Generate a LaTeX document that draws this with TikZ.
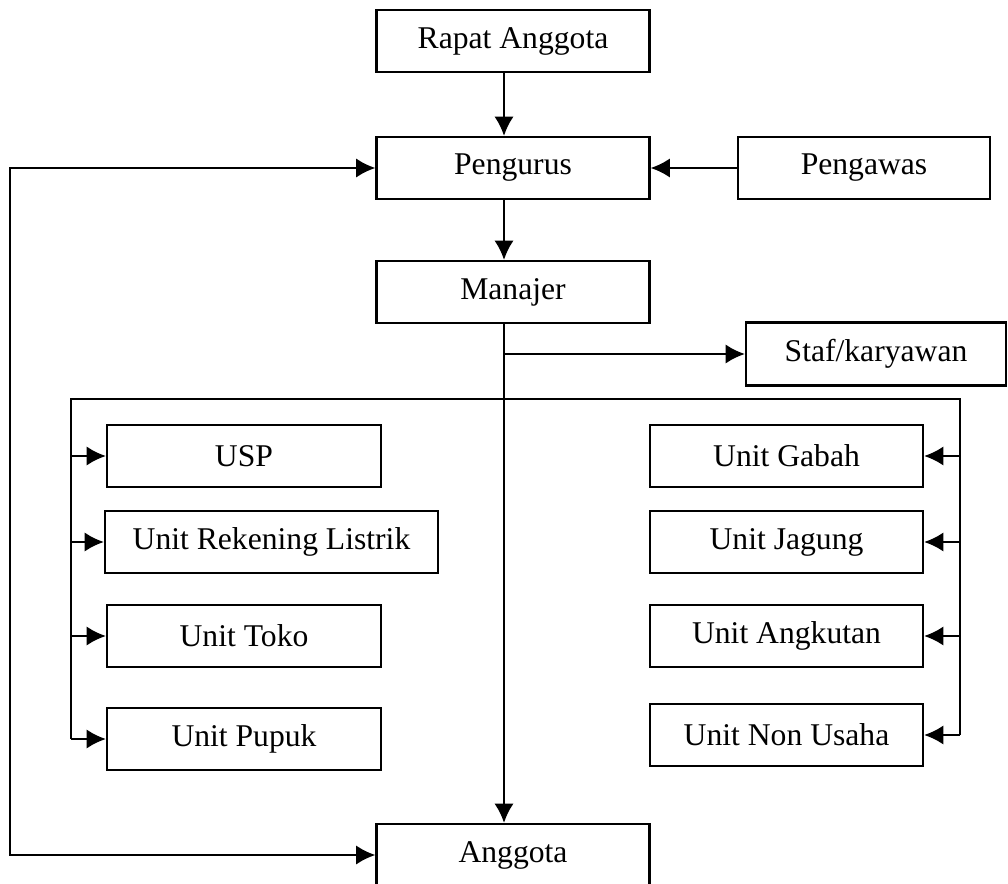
\documentclass[tikz,border=0pt]{standalone}
\usepackage{fontspec}
\setmainfont{Liberation Serif}
\usetikzlibrary{arrows.meta,positioning,calc}
\definecolor{ink}{HTML}{000000}
\tikzset{>={Latex[length=11pt,width=11pt]},box/.style={draw=ink,line width=1.2pt,minimum width=5.46cm,minimum height=1.24cm,inner sep=0pt,font=\fontsize{18}{22}\selectfont},arr/.style={->,line width=1.4pt,ink},line/.style={line width=1.4pt,ink}}

\begin{document}
\begin{tikzpicture}
\useasboundingbox (0,0) rectangle (20.16,-17.68);
\coordinate (spine) at (10.08,0);
\coordinate (farleft) at (0.2,0);
\coordinate (lbus) at (1.42,-7.98);
\coordinate (rbus) at (19.2,-7.98);
\node[box] (rapat) at (10.26,-0.82) {Rapat Anggota};
\node[box] (pengurus) at (10.26,-3.36) {Pengurus};
\node[box,minimum width=5.04cm] (pengawas) at (17.28,-3.36) {Pengawas};
\node[box] (manajer) at (10.26,-5.84) {Manajer};
\node[box,minimum width=5.2cm,minimum height=1.26cm] (staf) at (17.52,-7.08) {Staf/karyawan};
\node[box,minimum width=5.48cm] (usp) at (4.88,-9.12) {USP};
\node[box,minimum width=6.66cm] (rekening) at (5.43,-10.84) {Unit Rekening Listrik};
\node[box,minimum width=5.48cm] (toko) at (4.88,-12.72) {Unit Toko};
\node[box,minimum width=5.48cm] (pupuk) at (4.88,-14.78) {Unit Pupuk};
\node[box] (gabah) at (15.73,-9.12) {Unit Gabah};
\node[box] (jagung) at (15.73,-10.84) {Unit Jagung};
\node[box] (angkutan) at (15.73,-12.72) {Unit Angkutan};
\node[box] (nonusaha) at (15.73,-14.70) {Unit Non Usaha};
\node[box] (anggota) at (10.26,-17.1) {Anggota};
\draw[arr] (rapat.south -| spine) -- (pengurus.north -| spine);
\draw[arr] (pengawas.west) -- (pengurus.east);
\draw[arr] (pengurus.south -| spine) -- (manajer.north -| spine);
\draw[arr] (manajer.south -| spine) -- (anggota.north -| spine);
\draw[arr] (spine |- staf.west) -- (staf.west);
\draw[arr,<->] (pengurus.west) -| (farleft |- anggota.west) -- (anggota.west);
\draw[line] (lbus |- pupuk.west) -- (lbus) -- (rbus) -- (rbus |- nonusaha.east);
\foreach \n in {usp,rekening,toko,pupuk}{
\draw[arr] (lbus |- \n.west) -- (\n.west);}
\foreach \n in {gabah,jagung,angkutan,nonusaha}{
\draw[arr] (rbus |- \n.east) -- (\n.east);}
\end{tikzpicture}
\end{document}
